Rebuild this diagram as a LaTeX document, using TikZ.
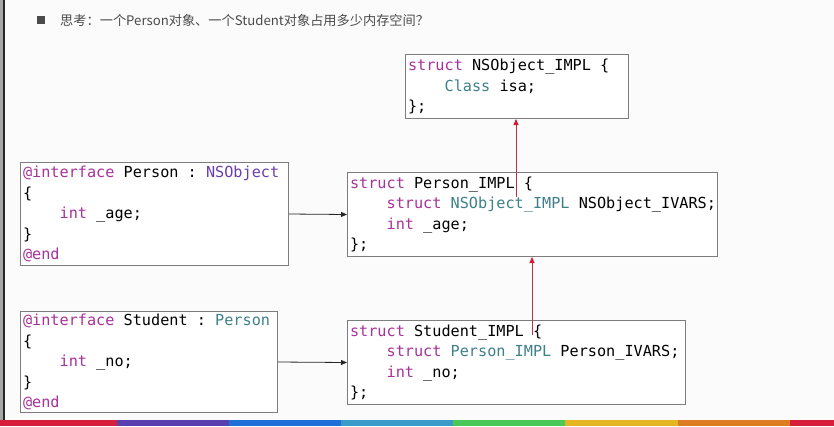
\documentclass[tikz,border=0pt]{standalone}
\usepackage{fontspec}
\setmonofont{DejaVu Sans Mono}
\newfontfamily\cjk{Noto Sans CJK SC}
\usepackage{xcolor}
\usetikzlibrary{arrows.meta}

\definecolor{kwpink}{RGB}{168,50,155}
\definecolor{clspurple}{RGB}{105,62,175}
\definecolor{typeteal}{RGB}{62,128,138}
\definecolor{boxgray}{RGB}{125,125,125}
\definecolor{linkred}{RGB}{180,50,70}
\definecolor{tipred}{RGB}{215,25,40}
\definecolor{titlegray}{RGB}{75,75,75}
\definecolor{pagebg}{RGB}{251,251,251}
\definecolor{stripred}{RGB}{215,30,58}
\definecolor{strippurple}{RGB}{88,62,175}
\definecolor{stripblue}{RGB}{32,110,215}
\definecolor{stripteal}{RGB}{58,155,200}
\definecolor{stripgreen}{RGB}{75,200,90}
\definecolor{stripyellow}{RGB}{230,182,32}
\definecolor{striporange}{RGB}{222,125,32}

\newcommand{\kw}[1]{\textcolor{kwpink}{#1}}
\newcommand{\cls}[1]{\textcolor{clspurple}{#1}}
\newcommand{\typ}[1]{\textcolor{typeteal}{#1}}
\newcommand{\ind}{\hphantom{xxxx}}
\newcommand{\spc}{\hphantom{x}}
\newcommand{\codefont}{\fontsize{15.2}{20.5}\selectfont\ttfamily}

\tikzset{
  codebox/.style={draw=boxgray,line width=1pt,fill=white,align=left,anchor=north west,
    font=\codefont,inner xsep=2.5pt,inner ysep=0pt},
  blkarrow/.style={-{Triangle[length=6pt,width=5pt]},line width=0.8pt,black!85},
  redarrow/.style={-{Triangle[length=6pt,width=5pt,color=tipred]},line width=0.8pt,linkred}
}

\begin{document}
\begin{tikzpicture}[x=1pt,y=-1pt]
\useasboundingbox (0,0) rectangle (834,426);
\fill[pagebg] (0,0) rectangle (834,426);
\fill[black!35] (0,0) rectangle (3,426);
\fill[black!85] (3,0) rectangle (5,426);
% title
\fill[titlegray] (37,16) rectangle (45,24);
\node[anchor=west,inner sep=0pt,text=titlegray,font=\cjk\fontsize{13.2}{16}\selectfont] (title) at (60,20)
  {思考：一个Person对象、一个Student对象占用多少内存空间？};
% code boxes
\node[codebox,text width=218pt,minimum height=64pt] (nsobj) at (405,54)
  {\kw{struct}\spc NSObject\_IMPL\spc\{\\ \ind\typ{Class}\spc isa;\\ \};};
\node[codebox,text width=263pt,minimum height=103pt] (person) at (20,162)
  {\kw{@interface}\spc Person\spc:\spc\cls{NSObject}\\ \{\\ \ind\kw{int}\spc\_age;\\ \}\\ \kw{@end}};
\node[codebox,text width=365pt,minimum height=84pt] (personimpl) at (347,172)
  {\kw{struct}\spc Person\_IMPL\spc\{\\ \ind\kw{struct}\spc\typ{NSObject\_IMPL}\spc NSObject\_IVARS;\\ \ind\kw{int}\spc\_age;\\ \};};
\node[codebox,text width=252pt,minimum height=101pt] (student) at (20,311)
  {\kw{@interface}\spc Student\spc:\spc\typ{Person}\\ \{\\ \ind\kw{int}\spc\_no;\\ \}\\ \kw{@end}};
\node[codebox,text width=333pt,minimum height=84pt] (studentimpl) at (347,320)
  {\kw{struct}\spc Student\_IMPL\spc\{\\ \ind\kw{struct}\spc\typ{Person\_IMPL}\spc Person\_IVARS;\\ \ind\kw{int}\spc\_no;\\ \};};
% connectors
\draw[blkarrow] (person.east) -- (personimpl.west);
\draw[blkarrow] (student.east) -- (studentimpl.west);
\coordinate (pbase) at (516,197);
\coordinate (sbase) at (532,335);
\draw[redarrow] (pbase) -- (pbase |- nsobj.south);
\draw[redarrow] (sbase) -- (sbase |- personimpl.south);
% colour strip
\foreach \xa/\xb/\col in {0/117/stripred,117/229/strippurple,229/341/stripblue,341/453/stripteal,
  453/565/stripgreen,565/678/stripyellow,678/790/striporange,790/834/stripred}
  \fill[\col] (\xa,420) rectangle (\xb,426);
\end{tikzpicture}
\end{document}
